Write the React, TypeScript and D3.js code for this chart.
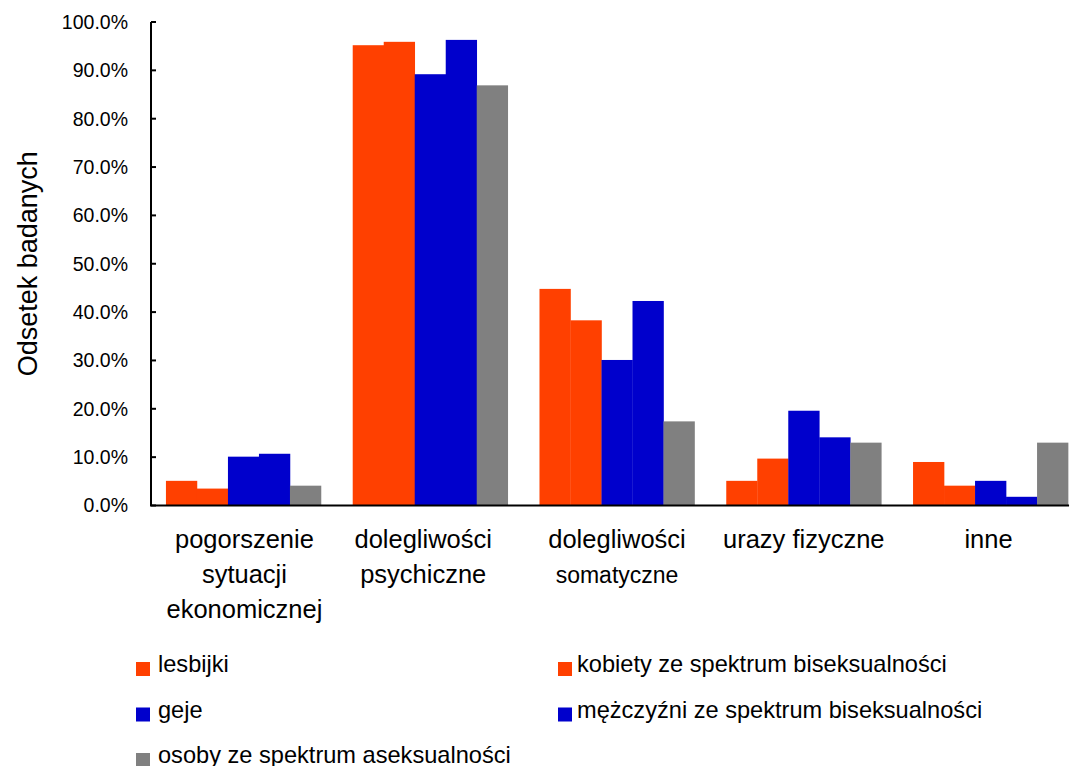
import React from "react";
import * as d3 from "d3";

const categories = [
  ["pogorszenie", "sytuacji", "ekonomicznej"],
  ["dolegliwości", "psychiczne"],
  ["dolegliwości", "somatyczne"],
  ["urazy fizyczne"],
  ["inne"],
];
const seriesNames = [
  "lesbijki",
  "kobiety ze spektrum biseksualności",
  "geje",
  "mężczyźni ze spektrum biseksualności",
  "osoby ze spektrum aseksualności",
];
const seriesColors = ["#FF4000", "#FF4000", "#0000CC", "#0000CC", "#808080"];
const lesbijki = [5.1, 95.2, 44.8, 5.1, 9.0];
const kobietyBi = [3.5, 95.9, 38.3, 9.7, 4.1];
const geje = [10.1, 89.2, 30.1, 19.6, 5.1];
const mezczyzniBi = [10.7, 96.3, 42.3, 14.1, 1.8];
const aseks = [4.1, 86.9, 17.4, 13.0, 13.0];
const values = [lesbijki, kobietyBi, geje, mezczyzniBi, aseks];
const yTicks = [0, 10, 20, 30, 40, 50, 60, 70, 80, 90, 100];
const labelOffsets = [1, -7, 0, 0, -2];

const W = 1075;
const H = 766;
const FONT = "'Liberation Sans', Arial, sans-serif";

export default function App() {
  const x0 = 151;
  const yTop = 22;
  const yBot = 505.5;
  const y = d3.scaleLinear().domain([0, 100]).range([yBot, yTop]);
  const idx = categories.map((_, i) => i);
  const xb = d3
    .scaleBand<number>()
    .domain(idx)
    .range([x0, 1083])
    .paddingInner(0.17)
    .paddingOuter(0.08);
  const xs = d3
    .scaleBand<number>()
    .domain(seriesNames.map((_, i) => i))
    .range([0, xb.bandwidth()]);
  const xAxisEnd = (xb(4) as number) + xb.bandwidth();

  return (
    <svg
      width={W}
      height={H}
      style={{ position: "absolute", left: 0, top: 0, background: "#fff" }}
      fontFamily={FONT}
    >
      {values.map((arr, s) =>
        arr.map((v, c) => (
          <rect
            key={`${s}-${c}`}
            x={(xb(c) as number) + (xs(s) as number)}
            y={y(v)}
            width={xs.bandwidth() + 0.3}
            height={yBot - y(v)}
            fill={seriesColors[s]}
          />
        ))
      )}
      <line x1={x0} x2={x0} y1={yTop} y2={yBot} stroke="#000" strokeWidth={2} />
      {yTicks.map((t) => (
        <g key={t}>
          <line x1={x0} x2={x0 + 5} y1={y(t)} y2={y(t)} stroke="#000" strokeWidth={2} />
          <text
            x={128}
            y={y(t)}
            dy="0.35em"
            textAnchor="end"
            fontSize={19.5}
            fill="#000"
          >
            {t.toFixed(1) + "%"}
          </text>
        </g>
      ))}
      <line x1={x0 - 1} x2={xAxisEnd + 1} y1={yBot} y2={yBot} stroke="#000" strokeWidth={2} />
      <text
        transform={`translate(37, ${(yTop + yBot) / 2}) rotate(-90)`}
        textAnchor="middle"
        fontSize={27}
        fill="#000"
      >
        Odsetek badanych
      </text>
      {categories.map((lines, c) => {
        const cx = (xb(c) as number) + xb.bandwidth() / 2 + labelOffsets[c];
        return (
          <text key={c} textAnchor="middle" fill="#000">
            {lines.map((ln, i) => (
              <tspan
                key={i}
                x={cx}
                y={548 + i * 35}
                fontSize={c === 2 && i === 1 ? 23 : 25.5}
              >
                {ln}
              </tspan>
            ))}
          </text>
        );
      })}
      {seriesNames.map((name, s) => {
        const col = s % 2;
        const row = Math.floor(s / 2);
        const sx = col === 0 ? 136 : 558;
        const tx = col === 0 ? 158 : 577;
        const by = 672 + row * 45.5;
        return (
          <g key={name}>
            <rect x={sx} y={by - 10} width={14} height={14} fill={seriesColors[s]} />
            <text x={tx} y={by} fontSize={23.6} fill="#000">
              {name}
            </text>
          </g>
        );
      })}
    </svg>
  );
}
